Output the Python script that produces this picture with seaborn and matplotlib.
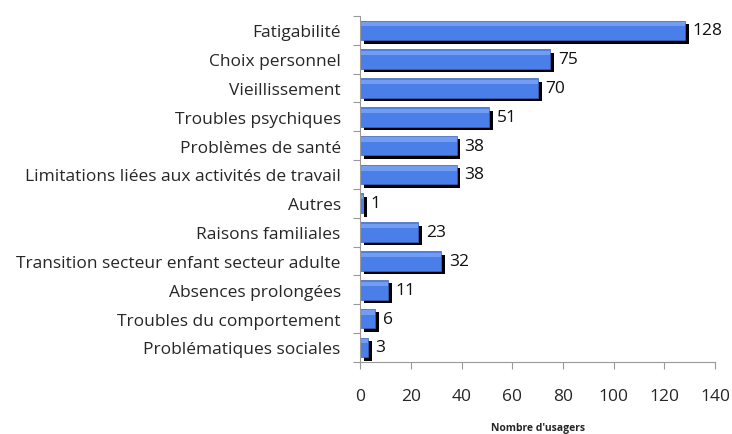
import matplotlib
matplotlib.use("Agg")
import matplotlib.pyplot as plt
import matplotlib.patheffects as pe
import seaborn as sns
import pandas as pd
import numpy as np

categories = ["Fatigabilité", "Choix personnel", "Vieillissement", "Troubles psychiques",
              "Problèmes de santé", "Limitations liées aux activités de travail", "Autres",
              "Raisons familiales", "Transition secteur enfant secteur adulte",
              "Absences prolongées", "Troubles du comportement", "Problématiques sociales"]
values = [128, 75, 70, 51, 38, 38, 1, 23, 32, 11, 6, 3]
xticks = [0, 20, 40, 60, 80, 100, 120, 140]

df = pd.DataFrame({"cat": categories, "val": values})

sns.set_theme(style="white")
plt.rcParams['font.family'] = ['Open Sans', 'DejaVu Sans']

fig = plt.figure(figsize=(7.32, 4.35), dpi=100)
ax = fig.add_axes([0.492, 0.166, 0.485, 0.795])

sns.barplot(data=df, y="cat", x="val", orient="h", color="#4A7FEA", saturation=1,
            width=0.68, ax=ax, edgecolor="#3A66C0", linewidth=0.5)

for p in ax.patches:
    p.set_path_effects([pe.SimplePatchShadow(offset=(2.8, -2.5), shadow_rgbFace="black", alpha=1),
                        pe.Normal()])
for p in list(ax.patches):
    x0, y0 = p.get_x(), p.get_y()
    w, h = p.get_width(), p.get_height()
    ax.add_patch(plt.Rectangle((x0, y0 + h * 0.08), w, h * 0.22, color="#8DB2F7", lw=0,
                               alpha=0.6, zorder=p.get_zorder() + 0.1))

for i, v in enumerate(values):
    ax.text(v + 3.0, i, str(v), va="center", ha="left", fontsize=12.5, color="#111111")

ax.set_xlim(0, 140)
ax.set_ylim(11.5, -0.5)
ax.set_xticks(xticks)
ax.set_xticklabels([str(t) for t in xticks], fontsize=12.5)
ax.tick_params(axis="y", which="major", length=0, labelsize=12.5, pad=14)
ax.set_yticks(np.arange(-0.5, 12, 1), minor=True)
ax.tick_params(axis="y", which="minor", left=True, length=5, color="#999999", width=0.8,
               direction="out")
ax.tick_params(axis="x", bottom=True, length=5, color="#999999", width=0.8, direction="out", pad=14)
for s in ["top", "right"]:
    ax.spines[s].set_visible(False)
for s in ["left", "bottom"]:
    ax.spines[s].set_color("#999999")
    ax.spines[s].set_linewidth(0.8)
ax.set_ylabel("")
ax.set_xlabel("Nombre d'usagers", fontsize=7.5, fontweight="bold", labelpad=12.5)

fig.savefig("out.png", dpi=100)
